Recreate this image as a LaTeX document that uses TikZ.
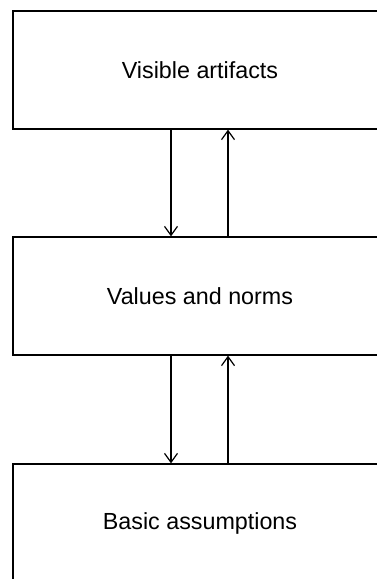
\documentclass[tikz,border=0pt]{standalone}
\usepackage{fontspec}
\setmainfont{Liberation Sans}
\usetikzlibrary{arrows.meta}
\begin{document}
\begin{tikzpicture}[x=1pt,y=-1pt,
  layer/.style={draw, line width=1.3pt, minimum width=374pt, minimum height=118pt, inner sep=0pt, font=\fontsize{23.3}{28}\selectfont},
  conn/.style={line width=1.2pt, -{Straight Barb[length=9pt,width=13pt,line width=1.2pt]}}]
\useasboundingbox (0,0) rectangle (377,579);
\clip (0,0) rectangle (377,579);
\node[layer] (a) at (200,70) {\raisebox{-1.5pt}{Visible artifacts}};
\node[layer] (b) at (200,296) {\raisebox{-1.5pt}{Values and norms}};
\node[layer] (c) at (200,523) {\raisebox{-1.5pt}{Basic assumptions}};
\draw[conn] ([xshift=-29pt]a.south) -- ([xshift=-29pt]b.north);
\draw[conn] ([xshift=28pt]b.north) -- ([xshift=28pt]a.south);
\draw[conn] ([xshift=-29pt]b.south) -- ([xshift=-29pt]c.north);
\draw[conn] ([xshift=28pt]c.north) -- ([xshift=28pt]b.south);
\end{tikzpicture}
\end{document}
